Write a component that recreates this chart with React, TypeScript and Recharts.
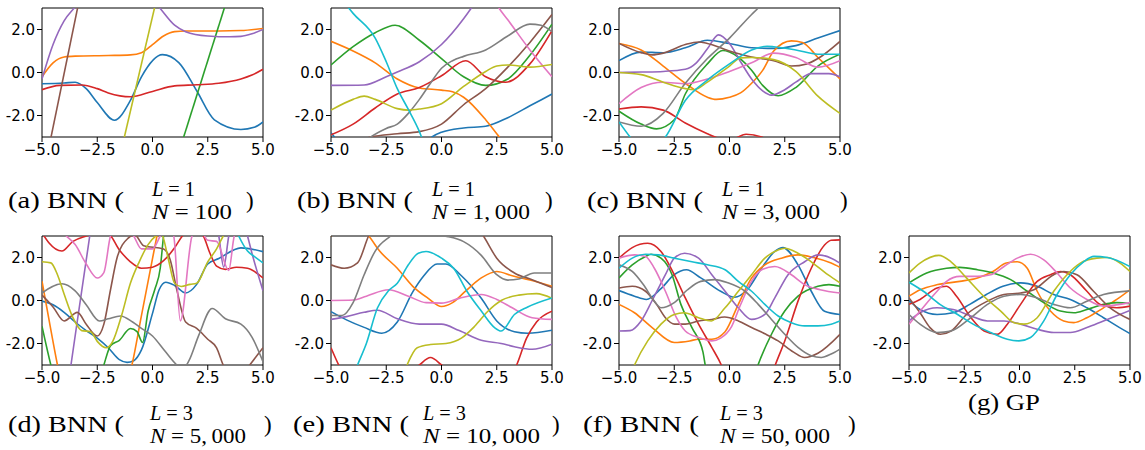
import React from 'react';
import { LineChart, Line, XAxis, YAxis, ReferenceArea } from 'recharts';

type Pt = [number, number];

const xTicks = [-5, -2.5, 0, 2.5, 5];
const yTicks = [-2, 0, 2];

// (a) BNN L=1, N=100
const curvesA: Record<string, Pt[]> = {
  blue: [[-5, -0.52], [-4, -0.49], [-3.5, -0.45], [-3, -0.75], [-2.5, -1.4], [-1.72, -2.22], [-1, -1.3], [-0.5, -0.2], [0.45, 0.83], [1.2, 0.45], [2, -0.85], [2.8, -2.2], [4, -2.65], [4.6, -2.55], [5, -2.3]],
  orange: [[-5, -0.2], [-4.5, 0.45], [-4, 0.72], [-3.5, 0.76], [-2, 0.79], [-1, 0.82], [-0.5, 0.92], [0, 1.3], [0.5, 1.7], [1, 1.9], [1.5, 1.93], [3, 1.93], [4, 1.95], [5, 2.05]],
  green: [[0, -7.6], [4, 5.44]],
  red: [[-5, -0.8], [-4.2, -0.6], [-3.2, -0.58], [-2.5, -0.75], [-2, -0.95], [-1, -1.13], [0, -0.88], [1, -0.62], [2, -0.57], [3, -0.5], [4, -0.3], [4.5, -0.12], [5, 0.15]],
  purple: [[-5, -0.3], [-4.5, 1.3], [-4, 2.4], [-3.5, 3.05], [-2.5, 4.3], [-1.5, 4.6], [-0.5, 4.0], [0.33, 3.0], [1, 2.2], [1.5, 1.9], [2.5, 1.7], [3.5, 1.66], [4, 1.68], [4.5, 1.8], [5, 2.0]],
  brown: [[-5, -5.05], [-3, 4.95]],
  olive: [[-2, -6.2], [1, 7.0]],
};

// (b) BNN L=1, N=1,000
const curvesB: Record<string, Pt[]> = {
  blue: [[-5, -2.8], [-4, -3.8], [-2, -4.2], [-1, -3.6], [-0.43, -3.0], [0, -2.78], [1, -2.58], [2, -2.5], [3, -2.1], [4, -1.55], [5, -1.0]],
  orange: [[-5, 1.45], [-4, 1.0], [-3, 0.45], [-2, -0.3], [-1, -0.72], [0, -0.82], [0.5, -0.9], [1, -1.15], [2, -2.2], [2.5, -2.85], [3, -3.5], [4, -4.7]],
  green: [[-5, 0.35], [-4, 1.2], [-3, 1.85], [-2.1, 2.2], [-1, 1.5], [0, 0.65], [1, -0.2], [2, -0.6], [3, -0.3], [4, 0.8], [5, 2.25]],
  red: [[-5, -2.9], [-4, -2.4], [-3, -1.65], [-2, -1.0], [-1, -0.7], [0, -0.15], [1.1, 0.55], [2, -0.2], [2.9, -0.45], [4, 0.4], [5, 1.95]],
  purple: [[-5, -0.6], [-3.5, -0.58], [-2.5, -0.2], [-2, 0.02], [-1, 0.5], [0, 1.3], [1, 2.5], [1.35, 3.0], [2, 4.0], [2.5, 4.5]],
  brown: [[-5, -3.6], [-4, -3.3], [-3.2, -3.0], [-2, -2.85], [-1, -2.75], [0, -2.4], [1, -1.5], [2, -0.75], [3, 0.25], [4, 1.4], [5, 2.7]],
  pink: [[1.5, 5], [2, 4.2], [2.6, 3.0], [3, 2.45], [4, 1.05], [5, -0.2]],
  gray: [[-4, -3.8], [-3.2, -3.0], [-2.5, -2.6], [-2, -2.4], [-1.5, -1.9], [-1, -1.25], [-0.5, -0.5], [0, 0.2], [0.5, 0.55], [1, 0.75], [2, 1.05], [3, 1.7], [4, 2.25], [4.5, 2.2], [5, 1.9]],
  olive: [[-5, -1.75], [-4, -1.25], [-3.5, -1.1], [-3, -1.25], [-2, -1.68], [-1.5, -1.75], [-1, -1.7], [0, -1.45], [1, -0.65], [2, 0.05], [2.5, 0.3], [3, 0.35], [4, 0.25], [5, 0.37]],
  cyan: [[-5, 4.0], [-4.2, 3.0], [-4, 2.75], [-3, 1.6], [-2.5, 0.5], [-2, -0.75], [-1.5, -1.72], [-1, -2.75], [-0.9, -3.0], [-0.5, -3.8]],
};

// (c) BNN L=1, N=3,000
const curvesC: Record<string, Pt[]> = {
  blue: [[-5, 0.55], [-4, 0.95], [-3, 0.92], [-2, 1.15], [-1, 1.5], [0, 1.35], [1, 1.15], [2, 1.12], [3, 1.25], [4, 1.6], [5, 1.95]],
  orange: [[-5, 1.35], [-4, 1.05], [-3, 0.3], [-2, -0.5], [-1, -1.15], [-0.6, -1.25], [0, -1.15], [0.5, -0.95], [1, -0.5], [1.5, 0.1], [2, 1.0], [2.8, 1.47], [3.3, 1.4], [4, 0.7], [5, -0.3]],
  green: [[-5, -1.8], [-4, -2.4], [-3.3, -2.62], [-2.5, -2.2], [-2, -1.0], [-1, 0.4], [-0.3, 1.02], [0, 0.95], [1, 0.1], [1.5, -0.6], [2.2, -1.08], [3, -0.7], [4, 0.3], [5, 0.85]],
  red: [[-5, -1.7], [-4, -1.6], [-3, -1.75], [-2, -2.35], [-1, -2.85], [-0.65, -3.0], [0, -3.15], [0.75, -2.87], [1.45, -3.0], [2.5, -3.8], [3.5, -4.2], [5, -4]],
  purple: [[-5, 0.0], [-4, 0.02], [-3, 0.05], [-2, 0.15], [-1.5, 0.45], [-1, 1.1], [-0.5, 1.75], [0, 1.35], [0.5, 0.5], [1, -0.3], [1.5, -0.85], [1.9, -1.05], [2.5, -0.8], [3, -0.45], [3.7, -0.05], [4.5, -0.05], [5, -0.2]],
  brown: [[-5, 1.35], [-4, 0.92], [-3.5, 0.82], [-3, 0.9], [-2, 1.3], [-1.4, 1.42], [-1, 1.35], [0, 1.0], [1, 0.72], [2, 0.55], [2.8, 0.3], [3.5, 0.4], [4, 0.65], [5, 1.45]],
  pink: [[-5, -1.45], [-4, -0.7], [-3, -0.45], [-2, -0.52], [-1, -0.3], [0, 0.05], [1, 0.45], [2, 0.9], [3, 0.7], [4, 0.25], [5, 0.55]],
  gray: [[-5, -2.3], [-4, -2.5], [-3, -1.9], [-2, -0.5], [-1, 0.65], [0, 1.6], [1, 2.7], [1.3, 3.0], [2, 3.9]],
  olive: [[-5, 0.0], [-4, -0.1], [-3, -0.45], [-2, -0.75], [-1.6, -0.8], [-1, -0.45], [0, 0.3], [0.5, 0.68], [1, 0.7], [2, 0.6], [3, 0.05], [4, -1.1], [5, -1.9]],
  cyan: [[-5, -2.3], [-4.5, -3.0], [-4, -3.6], [-3.5, -3.6], [-2.9, -3.0], [-2, -1.3], [-1, -0.35], [0, 0.4], [1, 1.05], [1.7, 1.22], [2, 1.2], [3, 1.05], [4, 0.85], [5, 0.85]],
};

// (d) BNN L=3, N=5,000
const curvesD: Record<string, Pt[]> = {
  blue: [[-5, -0.03], [-4.5, -0.2], [-4, -0.55], [-3.5, -1.0], [-3, -1.4], [-2.5, -1.75], [-2, -2.2], [-1.5, -2.75], [-1.15, -2.88], [-0.85, -2.8], [-0.5, -2.3], [0, -0.6], [0.3, 0.5], [0.6, 0.85], [1, 0.7], [1.5, 0.35], [2, 0.75], [2.5, 1.7], [3, 1.95], [4, 2.45], [5, 2.27]],
  orange: [[-5, 0.9], [-4.7, -0.8], [-4.3, -3.0], [-4, -4.5], [-1.5, -5], [-0.93, -3.0], [-0.5, -0.7], [0, 1.95], [0.2, 3.0], [0.5, 4.5]],
  green: [[-5, -1.2], [-4.6, -3.0], [-4.2, -4.5], [-2.6, -4.5], [-2.2, -3.0], [-1.9, -2.1], [-1.5, -1.85], [-1.0, -1.3], [-0.7, -1.45], [-0.45, -1.95], [-0.2, -0.5], [0.1, 0.5], [0.35, 1.5], [0.5, 3.0], [0.7, 4.5]],
  red: [[-5, 3.15], [-4.7, 2.7], [-4.1, 2.3], [-3.6, 2.75], [-3, 3.0], [-2.5, 3.15], [-2, 3.1], [-1.5, 2.35], [-1, 1.8], [-0.5, 1.5], [0, 1.55], [0.5, 1.85], [1, 2.45], [1.35, 3.0], [1.8, 3.4], [2.3, 3.0], [2.6, 2.2], [2.9, 1.6], [3.3, 1.45], [3.8, 1.55], [4.3, 1.5], [5, 1.05]],
  purple: [[-4, -5.2], [-3.69, -3.0], [-2.84, 3.0], [-2.5, 5.3], [2.5, 4.5], [3.0, 3.0], [3.22, 1.55], [3.45, 3.0], [3.8, 4.5], [4.3, 3.0], [4.5, 2.2], [5, 0.45]],
  brown: [[-5, 0.25], [-4.5, -0.3], [-4, -0.95], [-3.4, -0.55], [-3, -1.1], [-2.5, -1.65], [-2.2, -1.1], [-1.9, 0.5], [-1.6, 2.0], [-1.1, 2.9], [-0.8, 3.05], [-0.4, 2.55], [0.5, 2.4], [0.8, 1.9], [1.1, 0.5], [1.5, -1.0], [2, -1.3], [2.5, -1.8], [2.9, -2.2], [3.2, -3.0], [3.8, -3.8], [4.4, -3.0], [5, -2.2]],
  pink: [[-5, 3.5], [-4.2, 3.3], [-3.9, 3.0], [-3.5, 2.6], [-3, 1.7], [-2.5, 1.05], [-2.2, 1.3], [-1.9, 3.0], [-1.5, 3.6], [-1.2, 3.5], [-0.85, 3.0], [-0.5, 2.4], [0, 2.4], [0.35, 3.0], [0.65, 3.5], [0.96, 3.0], [1.26, -0.95], [1.79, 3.0], [2.1, 3.4], [2.5, 2.8], [2.9, 2.75], [3.45, 1.4], [3.7, 3.0], [4, 3.5]],
  gray: [[-5, 0.35], [-4.1, 0.78], [-3.5, 0.45], [-3, -0.2], [-2.4, -0.95], [-2, -0.85], [-1.45, -0.72], [-0.9, -1.0], [-0.55, -1.26], [0, -1.65], [0.6, -2.4], [1.1, -3.0], [1.35, -3.2], [1.65, -2.8], [2.1, -1.6], [2.7, -0.37], [3.3, -0.85], [4, -1.1], [4.5, -1.7], [5, -2.85]],
  olive: [[-5, 1.8], [-4.6, 1.75], [-4.3, 1.2], [-4, 0.3], [-3.6, -0.8], [-3.2, -1.4], [-2.8, -1.45], [-2.5, -1.9], [-2.1, -2.2], [-1.8, -1.9], [-1.4, -0.7], [-1.0, 0.8], [-0.6, 1.8], [-0.2, 2.6], [0.15, 3.0], [0.4, 3.1], [0.7, 2.0], [1.0, 0.8], [1.3, 0.65], [1.7, 0.75], [2.0, 0.8], [2.5, 1.8], [2.9, 2.4], [3.2, 3.0], [3.5, 3.5]],
  cyan: [[3.5, 4], [3.9, 3.0], [4.3, 2.3], [4.6, 2.05], [5, 1.75]],
};

// (e) BNN L=3, N=10,000
const curvesE: Record<string, Pt[]> = {
  blue: [[-5, -0.52], [-4.3, -0.9], [-3.5, -1.25], [-2.7, -1.52], [-2, -1.0], [-1.3, 0.4], [-0.8, 1.15], [-0.2, 1.7], [0.2, 1.7], [0.9, 1.15], [1.8, 0.1], [2.5, -0.95], [3.3, -1.45], [3.9, -1.52], [5, -1.38]],
  orange: [[-5, 3.0], [-4.5, 3.4], [-3.8, 3.4], [-3.3, 3.0], [-2.8, 2.3], [-2, 1.5], [-1.3, 0.66], [-0.6, 0.1], [0, -0.28], [0.5, -0.1], [1.1, 0.45], [1.8, 1.05], [2.5, 1.35], [3.2, 1.15], [4, 0.95], [5, 0.66]],
  red: [[-5, -2.2], [-4.65, -3.0], [-4, -4], [-2, -4], [-1.0, -3.0], [-0.5, -2.65], [0, -3.0], [1, -4], [2.5, -4], [3.4, -3.0], [3.85, -1.75], [4.3, -1.0], [5, -0.5]],
  purple: [[-5, -0.88], [-4.3, -0.75], [-3.5, -0.55], [-2.9, -0.45], [-2, -0.85], [-1, -1.1], [0, -1.1], [0.8, -1.4], [1.8, -1.85], [2.7, -2.0], [3.3, -2.15], [4.1, -2.27], [5, -2.03]],
  brown: [[-5, 1.66], [-4.4, 1.5], [-3.8, 1.75], [-3.3, 3.0], [-3, 3.6], [1.5, 3.6], [1.9, 3.0], [2.5, 1.97], [3.3, 1.28], [4.1, 0.97], [5, 0.6]],
  pink: [[-5, 0.0], [-4, 0.02], [-3.4, 0.2], [-2.4, 0.5], [-1.5, 0.2], [-0.7, -0.1], [0, -0.12], [0.8, 0.1], [1.8, 0.28], [2.5, 0.05], [3.2, -0.34], [4.1, -0.8], [5, -0.88]],
  gray: [[-5, -0.7], [-4.5, -0.7], [-4, -0.1], [-3.5, 1.2], [-3, 2.3], [-2.3, 3.0], [-1.5, 3.6], [-0.3, 3.05], [0.3, 2.97], [1.0, 2.74], [1.8, 2.1], [2.5, 1.2], [3, 0.95], [3.5, 1.0], [4.2, 1.28], [5, 1.28]],
  olive: [[-1.56, -3.0], [-1.1, -2.2], [-0.5, -2.05], [0.2, -2.0], [0.9, -1.75], [1.5, -1.2], [2.1, -0.5], [2.7, 0.0], [3.5, 0.25], [4.3, 0.32], [5, 0.1]],
  cyan: [[-4.5, -5], [-3.8, -3.0], [-3.4, -2.0], [-2.9, -0.35], [-2.4, 0.45], [-2, 0.8], [-1.5, 1.66], [-1.05, 2.2], [-0.7, 2.28], [0, 1.97], [0.55, 1.5], [1.15, 0.43], [1.8, -0.49], [2.4, -1.26], [2.7, -1.42], [3.3, -0.65], [3.9, -0.3], [5, 0.12]],
};

// (f) BNN L=3, N=50,000
const curvesF: Record<string, Pt[]> = {
  blue: [[-5, 0.46], [-4.3, 0.2], [-3.76, 0.05], [-3.1, 0.55], [-2.5, 1.2], [-1.95, 1.43], [-1.3, 1.05], [-0.4, 0.43], [0.23, 0.15], [0.8, 0.5], [1.45, 1.5], [2.05, 2.28], [2.42, 2.46], [3.1, 1.66], [3.7, 0.43], [4.3, -0.5], [5, -0.65]],
  orange: [[-5, -0.18], [-4.3, -0.57], [-3.5, -1.26], [-2.5, -1.95], [-1.8, -1.88], [-1.4, -1.8], [-0.8, -1.8], [-0.2, -1.45], [0.4, -0.18], [1.0, 1.05], [1.6, 1.66], [2.35, 1.97], [3.1, 2.12], [3.8, 2.0], [4.6, 1.74], [5, 1.54]],
  green: [[-5, 1.05], [-4.4, 1.66], [-3.8, 2.05], [-3.55, 2.15], [-3.1, 1.97], [-2.6, 1.2], [-2.2, -0.18], [-1.7, -1.26], [-1.2, -2.4], [-1.1, -3.0], [-0.5, -5], [0.7, -5], [1.29, -3.0], [1.9, -1.57], [2.5, -0.49], [3.1, 0.2], [4.0, 0.66], [4.5, 0.74], [5, 0.66]],
  red: [[-5, 1.97], [-4.4, 2.46], [-3.7, 2.66], [-3.1, 2.28], [-2.5, 1.2], [-2.0, 0.12], [-1.4, -1.1], [-0.8, -2.18], [-0.37, -3.0], [0.3, -5], [1.4, -5], [2.07, -3.0], [2.5, -1.88], [3.1, -0.03], [3.7, 1.5], [4.3, 2.58], [4.6, 2.8], [5, 2.82]],
  purple: [[-5, -1.42], [-4.5, -1.4], [-4, -0.95], [-3.5, 0.0], [-2.9, 1.2], [-2.5, 1.97], [-2.03, 2.2], [-1.4, 1.97], [-0.8, 1.2], [-0.2, 0.43], [0.4, -0.34], [1.0, -0.88], [1.6, -0.65], [2.05, 0.12], [2.65, 1.2], [3.4, 1.8], [4.0, 2.12], [4.6, 1.97], [5, 1.74]],
  brown: [[-5, 0.58], [-4.4, 0.66], [-3.8, 0.43], [-3.3, -0.18], [-2.9, -0.8], [-2.48, -1.1], [-2.0, -1.1], [-1.4, -0.95], [-0.8, -0.88], [-0.22, -0.77], [0.4, -0.95], [1.0, -1.26], [1.6, -1.55], [2.2, -1.88], [2.9, -2.4], [3.4, -2.65], [4.0, -2.45], [5, -1.57]],
  pink: [[-5, 1.97], [-4.3, 2.12], [-3.8, 2.05], [-3.4, 1.5], [-2.9, 0.43], [-2.4, -0.8], [-2.0, -1.42], [-1.4, -1.72], [-0.8, -1.88], [-0.4, -1.75], [0.1, -1.2], [0.5, -0.2], [1.0, 0.9], [1.5, 1.45], [2.05, 1.58], [2.8, 1.2], [3.4, 0.74], [4.1, 0.5], [5, 0.35]],
  gray: [[-5, 1.66], [-4.4, 1.35], [-3.9, 0.74], [-3.4, -0.03], [-3.1, -0.34], [-2.5, -0.1], [-1.9, 0.5], [-1.3, 0.89], [-0.67, 0.97], [-0.07, 0.82], [0.7, 0.43], [1.3, -0.18], [1.9, -0.88], [2.5, -1.57], [3.1, -2.18], [3.7, -2.57], [4.15, -2.65], [4.6, -2.49], [5, -2.26]],
  olive: [[-4.7, -4], [-4.3, -3.0], [-3.7, -1.88], [-3.1, -1.1], [-2.5, -0.65], [-2.05, -0.57], [-1.4, -0.8], [-0.82, -0.95], [-0.2, -0.34], [0.4, 0.43], [1.0, 1.2], [1.6, 1.97], [2.2, 2.35], [2.5, 2.43], [3.1, 2.2], [3.7, 1.8], [4.45, 1.2], [5, 0.82]],
  cyan: [[-5, 1.5], [-4.4, 1.97], [-3.8, 2.15], [-3.2, 2.12], [-2.5, 1.97], [-1.7, 1.8], [-1.0, 1.66], [-0.2, 1.43], [0.4, 0.89], [1.0, 0.43], [1.6, -0.18], [2.2, -0.72], [2.8, -1.03], [3.4, -1.18], [4.0, -1.18], [4.6, -1.1], [5, -0.95]],
};

// (g) GP
const curvesG: Record<string, Pt[]> = {
  blue: [[-5, 0], [-4.5, -0.42], [-3.73, -0.65], [-3, -0.57], [-2.25, -0.18], [-1.5, 0.28], [-0.75, 0.66], [0.05, 0.82], [0.8, 0.66], [1.55, 0.28], [2.3, 0.05], [3.05, -0.34], [3.8, -0.8], [4.4, -1.18], [5, -1.54]],
  orange: [[-5, 0.2], [-4.5, 0.5], [-3.7, 0.74], [-2.7, 0.89], [-1.9, 1.05], [-1.2, 1.35], [-0.6, 1.74], [-0.1, 1.8], [0.35, 1.5], [0.8, 0.43], [1.4, -0.49], [2.0, -0.95], [2.46, -1.03], [3.05, -0.8], [3.8, -0.34], [4.4, 0.05], [5, 0.5]],
  green: [[-5, 0.82], [-4.2, 1.28], [-3.3, 1.5], [-2.7, 1.54], [-1.9, 1.43], [-1.2, 1.28], [-0.4, 0.97], [0.35, 0.43], [1.1, -0.1], [1.85, -0.49], [2.46, -0.57], [3.05, -0.42], [3.8, -0.18], [4.4, -0.1], [5, -0.15]],
  red: [[-5, -0.18], [-4.5, 0.05], [-3.73, 0.58], [-3.3, 0.66], [-2.85, 0.2], [-2.2, -0.8], [-1.6, -1.42], [-1.0, -1.57], [-0.55, -1.1], [0.05, -0.18], [0.8, 0.89], [1.4, 1.2], [1.86, 1.35], [2.3, 1.2], [3.05, 0.43], [3.65, -0.18], [4.4, -0.34], [5, -0.26]],
  purple: [[-5, -0.95], [-4.5, -0.57], [-3.73, -0.34], [-3, -0.42], [-2.2, -0.72], [-1.45, -0.95], [-0.7, -0.95], [0.05, -1.1], [0.8, -1.34], [1.55, -1.49], [2.3, -1.49], [3.05, -1.26], [3.8, -0.95], [5, -0.46]],
  brown: [[-5, 0.12], [-4.5, -0.57], [-4.05, -1.26], [-3.58, -1.57], [-3.1, -1.42], [-2.4, -0.65], [-1.45, -0.03], [-0.7, 0.28], [0.05, 0.35], [0.65, 0.5], [1.55, 1.2], [2.0, 1.35], [2.6, 1.2], [3.35, 0.43], [4.1, -0.34], [5, -0.88]],
  pink: [[-5, -1.1], [-4.5, -0.49], [-3.73, 0.43], [-3.3, 0.89], [-2.7, 1.12], [-1.9, 1.12], [-1.3, 1.2], [-0.7, 1.58], [-0.1, 1.97], [0.5, 2.15], [1.1, 1.89], [1.7, 1.28], [2.3, 0.58], [3.05, 0.05], [3.8, -0.26], [5, -0.1]],
  gray: [[-5, -0.65], [-4.5, -1.1], [-3.73, -1.49], [-3.1, -1.42], [-2.2, -0.8], [-1.45, -0.18], [-0.7, 0.2], [0.05, 0.28], [0.8, 0.12], [1.55, -0.18], [2.3, -0.34], [3.05, -0.03], [3.8, 0.28], [5, 0.45]],
  olive: [[-5, 1.28], [-4.5, 1.74], [-3.65, 2.1], [-3.1, 1.8], [-2.4, 1.05], [-1.7, 0.28], [-0.85, -0.49], [-0.25, -1.03], [0.2, -1.1], [0.8, -0.8], [1.55, 0.43], [2.15, 1.2], [2.75, 1.74], [3.5, 1.97], [3.97, 2.0], [4.55, 1.74], [5, 1.35]],
  cyan: [[-5, 0.85], [-4.35, 0.43], [-3.6, -0.18], [-2.8, -0.65], [-2.1, -1.1], [-1.3, -1.49], [-0.55, -1.8], [-0.03, -1.88], [0.5, -1.72], [1.1, -0.95], [1.7, 0.28], [2.3, 1.2], [2.9, 1.8], [3.37, 2.05], [3.97, 2.0], [5, 1.58]],
};

const panelLetters = ['(a)', '(b)', '(c)', '(d)', '(e)', '(f)'];
const layerCounts = ['1', '1', '1', '3', '3', '3'];
const sampleCounts = ['100', '1,\u2009000', '3,\u2009000', '5,\u2009000', '10,\u2009000', '50,\u2009000'];

// matplotlib tab10 cycle
const TAB10: Record<string, string> = {
  blue: '#1f77b4', orange: '#ff7f0e', green: '#2ca02c', red: '#d62728', purple: '#9467bd',
  brown: '#8c564b', pink: '#e377c2', gray: '#7f7f7f', olive: '#bcbd22', cyan: '#17becf',
};
const ORDER = ['blue', 'orange', 'green', 'red', 'purple', 'brown', 'pink', 'gray', 'olive', 'cyan'];

const tickFont = { fontSize: 15, fontFamily: 'DejaVu Sans', fill: '#000' };
const fmtX = (v: number) => (v < 0 ? '\u2212' : '') + Math.abs(v).toFixed(1);
const fmtY = (v: number) => v.toFixed(1);

function Panel({ curves, left, top }: { curves: Record<string, Pt[]>; left: number; top: number }) {
  return (
    <div style={{ position: 'absolute', left, top }}>
      <LineChart width={277} height={163} margin={{ top: 8, right: 14, left: 0, bottom: 0 }}>
        <XAxis
          type="number"
          dataKey="x"
          domain={[-5, 5]}
          ticks={xTicks}
          interval={0}
          allowDataOverflow
          height={26}
          axisLine={false}
          tickLine={{ stroke: '#000' }}
          tickSize={5}
          tickMargin={2}
          tick={tickFont}
          tickFormatter={fmtX}
        />
        <YAxis
          type="number"
          domain={[-3, 3]}
          ticks={yTicks}
          interval={0}
          allowDataOverflow
          width={42}
          axisLine={false}
          tickLine={{ stroke: '#000' }}
          tickSize={5}
          tickMargin={2}
          tick={tickFont}
          tickFormatter={fmtY}
        />
        {ORDER.filter((k) => curves[k]).map((k) => (
          <Line
            key={k}
            data={curves[k].map(([x, y]) => ({ x, y }))}
            dataKey="y"
            type="monotone"
            stroke={TAB10[k]}
            strokeWidth={1.6}
            dot={false}
            activeDot={false}
            isAnimationActive={false}
          />
        ))}
        <ReferenceArea x1={-5} x2={5} y1={-3} y2={3} fill="none" fillOpacity={0} stroke="#000" strokeWidth={1} />
      </LineChart>
    </div>
  );
}

// caption placement: [main x, stack x, close-paren x, main y, L y, N y, N width]
const captionPos = [
  [8, 152, 246, 200, 189, 212, 80],
  [297, 432, 545, 200, 189, 212, 98],
  [587, 722, 840, 200, 189, 212, 98],
  [8, 150, 264, 424, 413, 436, 96],
  [293, 423, 552, 424, 413, 436, 117],
  [583, 720, 848, 424, 413, 436, 110],
];

const serif = 'Liberation Serif';

export default function App() {
  return (
    <div style={{ position: 'absolute', left: 0, top: 0, width: 1145, height: 450, background: '#fff', overflow: 'hidden' }}>
      <Panel curves={curvesA} left={0} top={0} />
      <Panel curves={curvesB} left={289} top={0} />
      <Panel curves={curvesC} left={577} top={0} />
      <Panel curves={curvesD} left={0} top={228} />
      <Panel curves={curvesE} left={289} top={228} />
      <Panel curves={curvesF} left={577} top={228} />
      <Panel curves={curvesG} left={867} top={228} />
      <svg width={1145} height={450} style={{ position: 'absolute', left: 0, top: 0, pointerEvents: 'none' }}>
        {captionPos.map(([mx, sx, px, my, ly, ny, nw], i) => (
          <g key={i} fontFamily={serif} fill="#000">
            <text x={mx} y={my} fontSize={23} dominantBaseline="central" textLength={116} lengthAdjust="spacingAndGlyphs">
              {panelLetters[i]} BNN (
            </text>
            <text x={sx} y={ly} fontSize={20} dominantBaseline="central" textLength={43} lengthAdjust="spacingAndGlyphs">
              <tspan fontStyle="italic">L</tspan> = {layerCounts[i]}
            </text>
            <text x={sx} y={ny} fontSize={20} dominantBaseline="central" textLength={nw} lengthAdjust="spacingAndGlyphs">
              <tspan fontStyle="italic">N</tspan> = {sampleCounts[i]}
            </text>
            <text x={px} y={my} fontSize={23} dominantBaseline="central">)</text>
          </g>
        ))}
        <text x={968} y={402} fontFamily={serif} fontSize={23} dominantBaseline="central" textLength={72} lengthAdjust="spacingAndGlyphs">
          (g) GP
        </text>
      </svg>
    </div>
  );
}
